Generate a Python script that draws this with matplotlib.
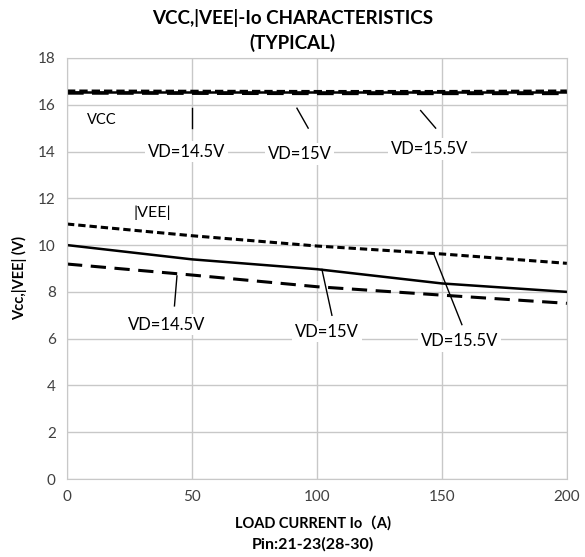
import matplotlib.pyplot as plt

plt.rcParams['font.family'] = ['Lato', 'DejaVu Sans']

# load current (A)
io = [0, 50, 100, 150, 200]

# VCC curves (V)
vcc_145 = [16.50, 16.49, 16.48, 16.48, 16.48]
vcc_15 = [16.56, 16.56, 16.56, 16.56, 16.56]
vcc_155 = [16.58, 16.57, 16.56, 16.56, 16.58]

# |VEE| curves (V)
vee_145 = [9.19, 8.72, 8.22, 7.86, 7.51]
vee_15 = [10.0, 9.39, 8.97, 8.36, 8.0]
vee_155 = [10.9, 10.4, 9.96, 9.62, 9.22]

fig = plt.figure(figsize=(5.85, 5.57), dpi=100)
ax = fig.add_axes([0.1145, 0.14, 0.8545, 0.756])

grid_c = '#c8c8c8'
ax.plot(io, vcc_145, color='black', lw=2.4, ls=(0, (5, 2.5)))
ax.plot(io, vcc_155, color='black', lw=2.4, ls=(0, (2.5, 1.2)))
ax.plot(io, vcc_15, color='black', lw=1.8, ls='-')

ax.plot(io, vee_145, color='black', lw=2.2, ls=(0, (5, 2.8)))
ax.plot(io, vee_15, color='black', lw=1.8, ls='-')
ax.plot(io, vee_155, color='black', lw=2.2, ls=(0, (2.4, 1.3)))

ax.set_xlim(0, 200)
ax.set_ylim(0, 18)
ax.set_xticks([0, 50, 100, 150, 200])
ax.set_yticks(range(0, 19, 2))
ax.grid(True, color=grid_c, lw=1)
ax.set_axisbelow(True)
ax.tick_params(length=0, labelsize=11, pad=8, colors='#404040')
for s in ax.spines.values():
    s.set_color(grid_c)

box = dict(facecolor='white', edgecolor='none', pad=2)
fs = 12
# VCC labels
ax.text(14, 15.35, 'VCC', fontsize=10.5, ha='center', va='center', bbox=box)
ax.text(48, 14.0, 'VD=14.5V', fontsize=fs, ha='center', va='center', bbox=box)
ax.text(93, 13.9, 'VD=15V', fontsize=fs, ha='center', va='center', bbox=box)
ax.text(145, 14.1, 'VD=15.5V', fontsize=fs, ha='center', va='center', bbox=box)
ax.plot([50, 50], [15.85, 15.0], color='black', lw=1)
ax.plot([92, 96.5], [15.85, 15.0], color='black', lw=1)
ax.plot([141.5, 147.5], [15.75, 15.0], color='black', lw=1)

# |VEE| labels
ax.text(34, 11.4, '|VEE|', fontsize=11.5, ha='center', va='center', bbox=box)
ax.text(40, 6.6, 'VD=14.5V', fontsize=fs, ha='center', va='center', bbox=box)
ax.text(104, 6.3, 'VD=15V', fontsize=fs, ha='center', va='center', bbox=box)
ax.text(157, 5.9, 'VD=15.5V', fontsize=fs, ha='center', va='center', bbox=box)
ax.plot([44, 43], [8.68, 7.4], color='black', lw=1)
ax.plot([102, 106], [8.96, 7.0], color='black', lw=1)
ax.plot([147, 158], [9.55, 6.6], color='black', lw=1)

fig.text(0.5, 0.967, 'VCC,|VEE|-Io CHARACTERISTICS', ha='center', va='center',
         fontsize=13.5, fontweight='bold')
fig.text(0.5, 0.922, '(TYPICAL)', ha='center', va='center',
         fontsize=13.5, fontweight='bold')
fig.text(0.535, 0.06, 'LOAD CURRENT Io\uff08A)', ha='center', va='center',
         fontsize=10.5, fontweight='bold', family=['Lato', 'Noto Sans CJK JP'])
fig.text(0.535, 0.022, 'Pin:21-23(28-30)', ha='center', va='center',
         fontsize=11.5, fontweight='bold')
fig.text(0.033, 0.5, 'Vcc,|VEE| (V)', ha='center', va='center', rotation=90,
         fontsize=10.5, fontweight='bold')

fig.savefig('out.png', dpi=100)
